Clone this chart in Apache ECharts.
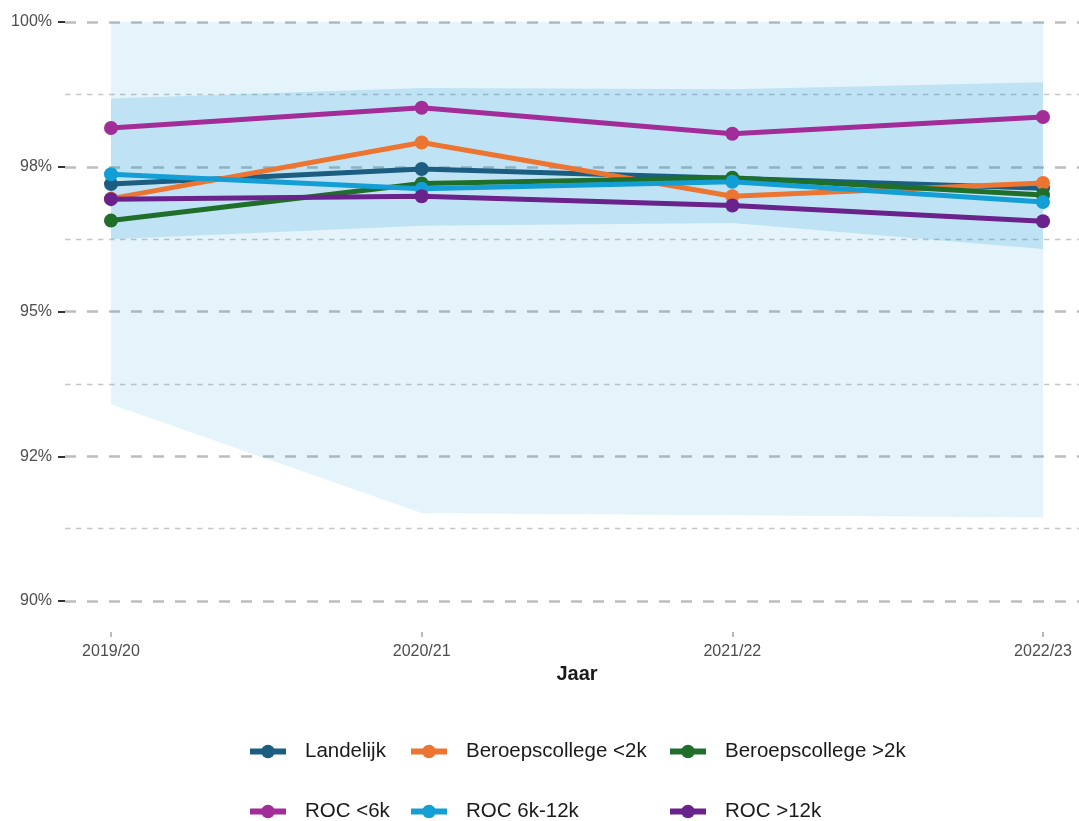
<!DOCTYPE html>
<html>
<head>
<meta charset="utf-8">
<script src="https://cdn.jsdelivr.net/npm/echarts@6/dist/echarts.min.js"></script>
<style>
  html, body { margin: 0; padding: 0; background: #fff; }
  #chart { width: 1079px; height: 821px; }
</style>
</head>
<body>
<div id="chart"></div>
<script>
// jaren
const years = ['2019/20', '2020/21', '2021/22', '2022/23']

// y-as ticks en labels (afgerond zoals in origineel)
const yTicks = [90, 92.5, 95, 97.5, 100]
const yTickLabels = ['90%', '92%', '95%', '98%', '100%']

// banden (min-max en binnenste band)
const outerLow = [93.40, 91.52, 91.48, 91.44]
const outerHigh = [100, 100, 100, 100]
const innerLow = [96.25, 96.48, 96.53, 96.08]
const innerHigh = [98.68, 98.86, 98.84, 98.96]

// lijnen
const landelijk = [97.20, 97.46, 97.30, 97.13]
const bc2kMin = [96.95, 97.92, 96.99, 97.22]
const bc2kPlus = [96.57, 97.21, 97.31, 97.01]
const roc6kMin = [98.17, 98.52, 98.07, 98.36]
const roc6k12k = [97.37, 97.12, 97.24, 96.89]
const roc12kPlus = [96.94, 96.99, 96.83, 96.56]

const lineNames = ['Landelijk', 'Beroepscollege <2k', 'Beroepscollege >2k', 'ROC <6k', 'ROC 6k-12k', 'ROC >12k']
const lineData = [landelijk, bc2kMin, bc2kPlus, roc6kMin, roc6k12k, roc12kPlus]
const lineColors = ['#1b5e82', '#ec7532', '#1f6e2a', '#a22d98', '#149ed6', '#6a238c']

const font = 'Liberation Sans, Arial, sans-serif'

function band(name, low, high, color) {
  const diff = high.map((h, i) => +(h - low[i]).toFixed(4))
  return [
    {
      name: name + '-low',
      type: 'line',
      xAxisIndex: 1,
      yAxisIndex: 1,
      stack: name,
      data: low,
      symbol: 'none',
      silent: true,
      lineStyle: { opacity: 0 }
    },
    {
      name: name + '-band',
      type: 'line',
      xAxisIndex: 1,
      yAxisIndex: 1,
      stack: name,
      data: diff,
      symbol: 'none',
      silent: true,
      lineStyle: { opacity: 0 },
      areaStyle: { color: color, opacity: 1 }
    }
  ]
}

const lineSeries = lineNames.map((n, i) => ({
  name: n,
  type: 'line',
  xAxisIndex: 1,
  yAxisIndex: 1,
  data: lineData[i],
  color: lineColors[i],
  symbol: 'circle',
  symbolSize: 14,
  lineStyle: { width: 5 },
  z: 3
}))

// legenda: 3 kolommen x 2 rijen
const legX = [247, 408, 667]
const legY = [741, 801]
const legends = lineNames.map((n, i) => ({
  data: [n],
  left: legX[i % 3],
  top: legY[Math.floor(i / 3)],
  padding: 0,
  itemWidth: 36,
  itemHeight: 17,
  lineStyle: { width: 6 },
  textStyle: { fontFamily: font, fontSize: 20.5, color: '#1a1a1a', padding: [0, 0, 0, 14] }
}))

const myChart = echarts.init(document.getElementById('chart'))
myChart.setOption({
  animation: false,
  textStyle: { fontFamily: font },
  grid: [
    { left: 65, right: 0, top: 22, bottom: 220 },
    { left: 111, right: 36, top: 22, bottom: 220 }
  ],
  legend: legends,
  xAxis: [
    { gridIndex: 0, type: 'value', min: 0, max: 1, show: false },
    {
      gridIndex: 1,
      type: 'category',
      data: years,
      boundaryGap: false,
      offset: 31,
      axisLine: { show: false },
      axisTick: { show: true, length: 5, lineStyle: { color: '#bbbbbb', width: 2 } },
      axisLabel: { color: '#4d4d4d', fontSize: 16, margin: 12 },
      name: 'Jaar',
      nameLocation: 'middle',
      nameGap: 32,
      nameTextStyle: { fontSize: 20, fontWeight: 'bold', color: '#1a1a1a' }
    }
  ],
  yAxis: [
    {
      gridIndex: 0,
      type: 'value',
      min: 90,
      max: 100,
      interval: 2.5,
      axisLine: { show: false },
      axisTick: { show: true, length: 7, lineStyle: { color: '#333333', width: 2 } },
      axisLabel: {
        color: '#4d4d4d',
        fontSize: 16,
        margin: 13,
        formatter: v => yTickLabels[yTicks.indexOf(v)]
      },
      splitLine: { show: true, lineStyle: { color: '#bdbdbd', width: 2.5, type: [11, 11] } },
      minorTick: { show: false, splitNumber: 2 },
      minorSplitLine: { show: true, lineStyle: { color: '#c8c8c8', width: 1.3, type: [5.5, 5.5] } }
    },
    { gridIndex: 1, type: 'value', min: 90, max: 100, show: false }
  ],
  series: [
    ...band('outer', outerLow, outerHigh, 'rgba(0,135,205,0.1)'),
    ...band('inner', innerLow, innerHigh, 'rgba(0,150,214,0.17)'),
    ...lineSeries
  ]
})
</script>
</body>
</html>
